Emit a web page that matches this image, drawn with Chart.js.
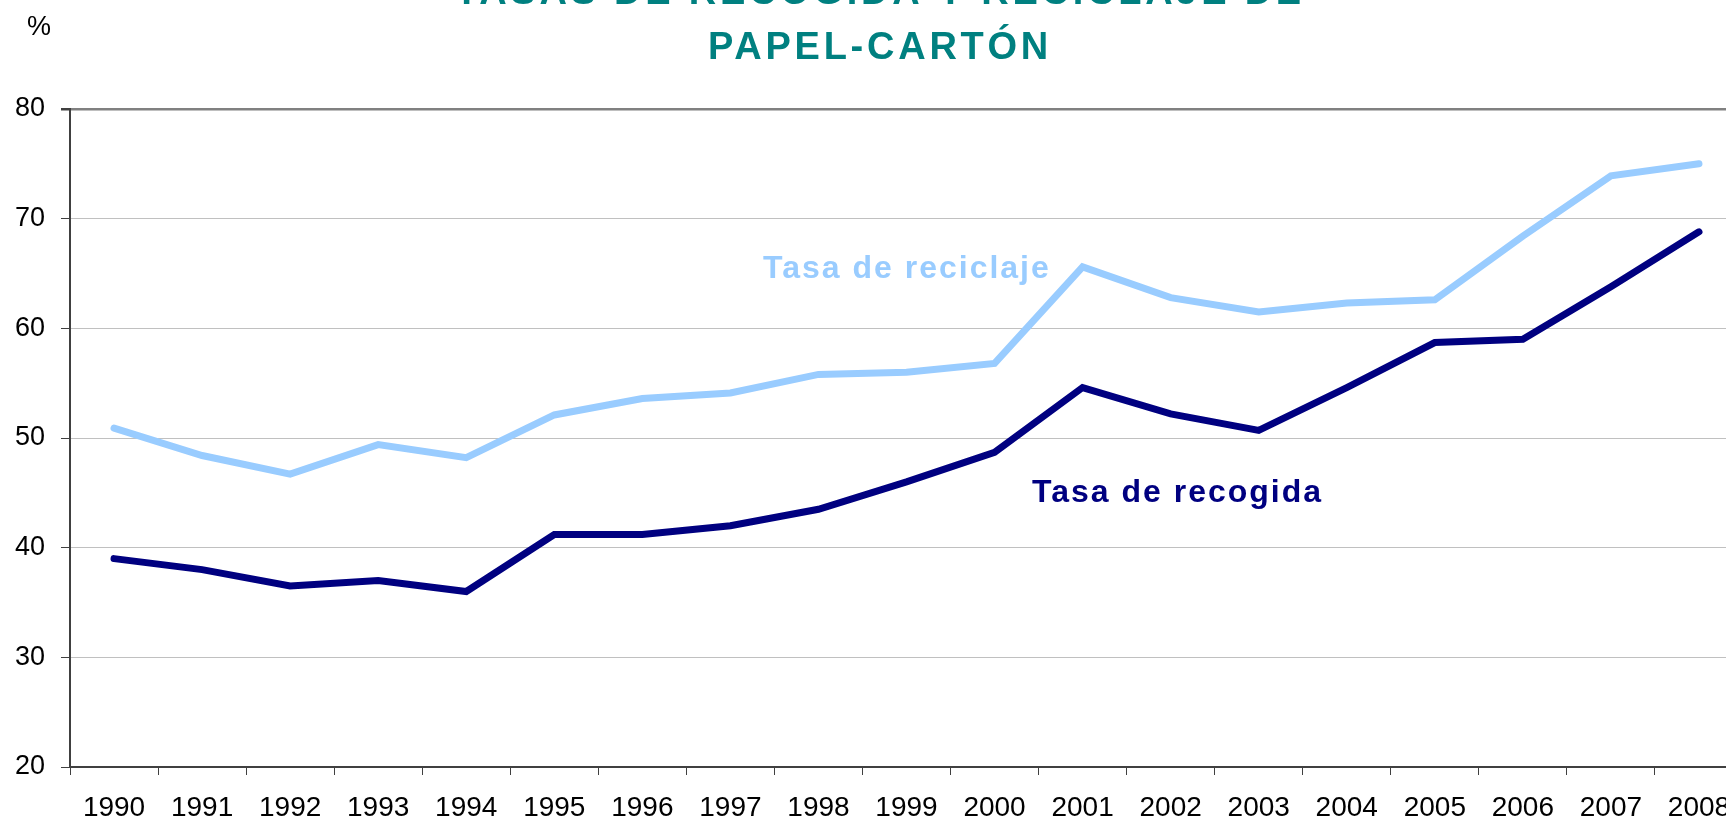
<!DOCTYPE html>
<html>
<head>
<meta charset="utf-8">
<script src="https://cdn.jsdelivr.net/npm/chart.js@4/dist/chart.umd.min.js"></script>
<style>
  html, body { margin: 0; padding: 0; background: #fff; overflow: hidden; }
  canvas { display: block; }
</style>
</head>
<body>
<canvas id="tasasChart" width="1760" height="821"></canvas>
<script>
// Datos
const years = ['1990', '1991', '1992', '1993', '1994', '1995', '1996', '1997', '1998', '1999',
               '2000', '2001', '2002', '2003', '2004', '2005', '2006', '2007', '2008'];
const tasaReciclaje = [50.9, 48.4, 46.7, 49.4, 48.2, 52.1, 53.6, 54.1, 55.8, 56.0,
                       56.8, 65.6, 62.8, 61.5, 62.3, 62.6, 68.4, 73.9, 75.0];
const tasaRecogida = [39.0, 38.0, 36.5, 37.0, 36.0, 41.2, 41.2, 42.0, 43.5, 46.0,
                      48.7, 54.6, 52.2, 50.7, 54.6, 58.7, 59.0, 63.8, 68.8];
const titleLines = ['TASAS DE RECOGIDA Y RECICLAJE DE', 'PAPEL-CARTÓN'];

const FONT = '"Liberation Sans", Arial, sans-serif';

// Textos dibujados sobre el canvas (título, %, etiquetas de series)
const textPlugin = {
    id: 'textos',
    afterDraw(chart) {
        const c = chart.ctx;
        c.save();
        c.textBaseline = 'alphabetic';

        c.fillStyle = '#008080';
        c.font = 'bold 38px ' + FONT;
        c.letterSpacing = '3.75px';
        c.textAlign = 'center';
        c.fillText(titleLines[0], chart.width / 2, 4);
        c.fillText(titleLines[1], chart.width / 2, 59);

        c.letterSpacing = '0px';
        c.textAlign = 'left';
        c.fillStyle = '#000';
        c.font = '27px ' + FONT;
        c.fillText('%', 27, 35);

        c.font = 'bold 32px ' + FONT;
        c.letterSpacing = '2px';
        c.fillStyle = '#99CCFF';
        c.fillText('Tasa de reciclaje', 763, 278);
        c.fillStyle = '#000080';
        c.fillText('Tasa de recogida', 1032, 502);
        c.restore();
    }
};

const ctx = document.getElementById('tasasChart').getContext('2d');

new Chart(ctx, {
    type: 'line',
    data: {
        labels: years,
        datasets: [
            {
                label: 'Tasa de reciclaje',
                data: tasaReciclaje,
                borderColor: '#99CCFF',
                borderWidth: 7,
                borderCapStyle: 'round',
                pointRadius: 0,
                tension: 0,
            },
            {
                label: 'Tasa de recogida',
                data: tasaRecogida,
                borderColor: '#000080',
                borderWidth: 7,
                borderCapStyle: 'round',
                pointRadius: 0,
                tension: 0,
            },
        ],
    },
    options: {
        responsive: false,
        animation: false,
        layout: { padding: { top: 109, right: 17, left: 0, bottom: 0 } },
        plugins: {
            legend: { display: false },
            tooltip: { enabled: false },
        },
        scales: {
            x: {
                offset: true,
                grid: {
                    offset: true,
                    drawOnChartArea: false,
                    tickLength: 8,
                    tickColor: '#404040',
                },
                border: { color: '#404040', width: 2 },
                ticks: {
                    color: '#000',
                    font: { family: FONT, size: 28 },
                    padding: 16,
                    autoSkip: false,
                    maxRotation: 0,
                },
                afterFit(scale) { scale.height = 54; },
            },
            y: {
                min: 20,
                max: 80,
                ticks: {
                    stepSize: 10,
                    color: '#000',
                    font: { family: FONT, size: 27 },
                    padding: 16,
                },
                grid: {
                    color: (c) => (c.tick && c.tick.value === 80 ? '#808080' : '#c0c0c0'),
                    lineWidth: (c) => (c.tick && c.tick.value === 80 ? 2.5 : 1),
                    tickLength: 9,
                    tickColor: '#404040',
                },
                border: { color: '#404040', width: 2 },
                afterFit(scale) { scale.width = 70; },
            },
        },
    },
    plugins: [textPlugin],
});
</script>
</body>
</html>
